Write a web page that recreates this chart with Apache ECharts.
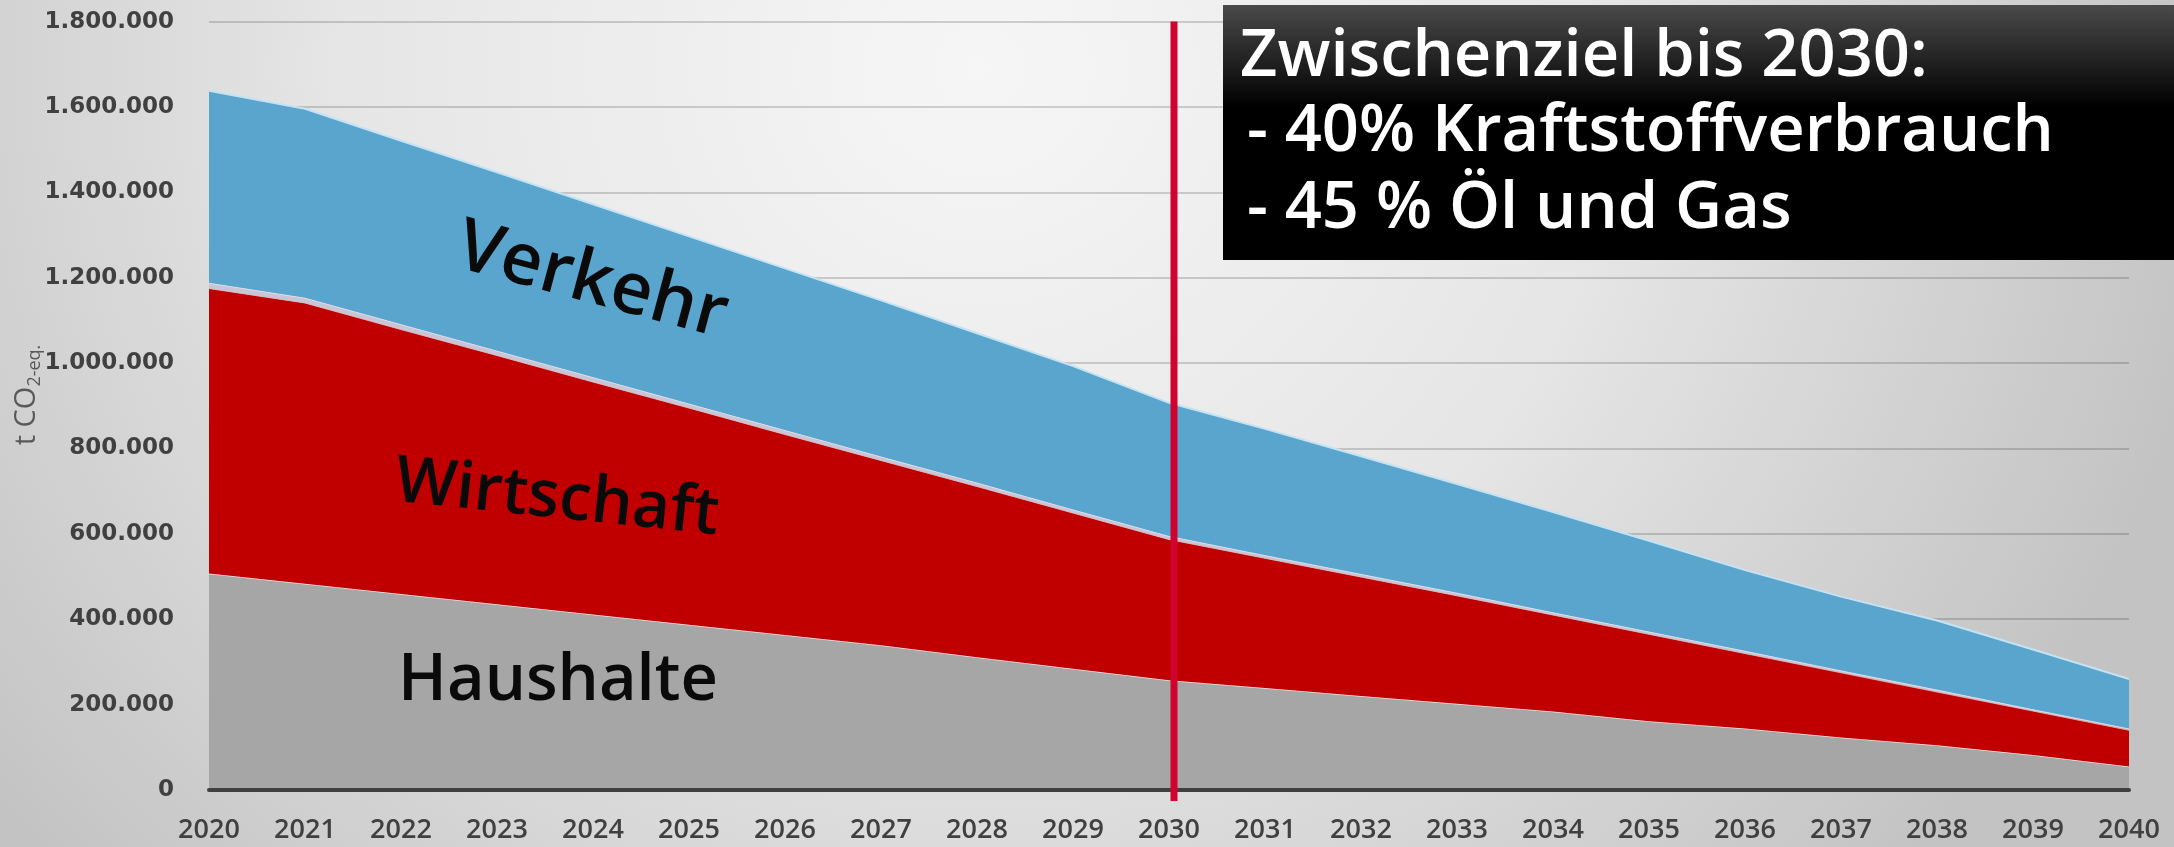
<!DOCTYPE html>
<html>
<head>
<meta charset="utf-8">
<script src="https://cdn.jsdelivr.net/npm/echarts@6/dist/echarts.min.js"></script>
<style>
  html, body { margin: 0; padding: 0; }
  #chart {
    width: 2174px; height: 847px;
    background: radial-gradient(ellipse 58% 140% at 45% 8%, #f6f6f6 0%, #e6e6e6 50%, #c3c3c3 100%);
  }
</style>
</head>
<body>
<div id="chart"></div>
<script>
// ---- data (t CO2-eq.) ----
const years = ['2020','2021','2022','2023','2024','2025','2026','2027','2028','2029','2030',
               '2031','2032','2033','2034','2035','2036','2037','2038','2039','2040'];
const haushalte  = [507000,483000,459000,435000,411000,387000,363000,339000,311000,284000,257000,
                    239000,220000,202000,184000,161000,144000,123000,105000,82000,55000];
const wirtschaft = [668000,658000,620000,583000,545000,508000,470000,433000,400000,365000,330000,
                    304000,279000,253000,226000,204000,176000,152000,125000,103000,85000];
const sonstige   = [12000,11000,11000,10000,10000,9000,9000,8000,8000,7000,7000,
                    6000,6000,6000,5000,5000,5000,4000,4000,3000,3000];
const verkehr    = [451000,444000,431000,419000,406000,393000,380000,367000,351000,337000,313000,
                    297000,277000,256000,236000,214000,190000,174000,163000,141000,117000];
const yTicks = { min: 0, max: 1800000, interval: 200000 };
const markYear = '2030';
const yAxisTitle = ['t CO', '2-eq.'];
const boxLines = ['Zwischenziel bis 2030:', ' - 40% Kraftstoffverbrauch', ' - 45 % Öl und Gas'];
const areaLabels = ['Verkehr', 'Wirtschaft', 'Haushalte'];

function fmt(v) { return String(v).replace(/\B(?=(\d{3})+(?!\d))/g, '.'); }

const chart = echarts.init(document.getElementById('chart'), null, { renderer: 'canvas' });

function areaSeries(name, data, color, lineColor, lineWidth, z) {
  return {
    name: name, type: 'line', stack: 'total', data: data,
    symbol: 'none', silent: true, z: z,
    lineStyle: { color: lineColor, width: lineWidth },
    areaStyle: { color: color, opacity: 1 }
  };
}

chart.setOption({
  backgroundColor: 'transparent',
  animation: false,
  grid: { left: 209, right: 45, top: 21.6, bottom: 57, containLabel: false, outerBoundsMode: 'none' },
  xAxis: {
    type: 'category', data: years, boundaryGap: false,
    axisLine: { show: true, lineStyle: { color: '#404040', width: 4 } },
    axisTick: { show: false },
    axisLabel: { color: '#404040', fontFamily: 'Open Sans', fontWeight: 600, fontSize: 27, margin: 27 },
    splitLine: { show: false },
    z: 5
  },
  yAxis: {
    type: 'value', min: yTicks.min, max: yTicks.max, interval: yTicks.interval,
    axisLine: { show: false }, axisTick: { show: false },
    axisLabel: { color: '#404040', fontFamily: 'DejaVu Sans', fontWeight: 'bold', fontSize: 23, margin: 35,
                 formatter: fmt },
    splitLine: { show: true, lineStyle: { color: 'rgba(0,0,0,0.16)', width: 2 } }
  },
  series: [
    areaSeries('Haushalte', haushalte, '#a6a6a6', '#f2e4e4', 1.5, 2),
    areaSeries('Wirtschaft', wirtschaft, '#c00000', '#f29a9a', 1.2, 3),
    areaSeries('Sonstige', sonstige, '#c7c5d6', '#dcdbe8', 1, 4),
    areaSeries('Verkehr', verkehr, '#5aa5cd', '#c3e3f4', 2, 1)
  ]
});

function build() {
  const xMark = chart.convertToPixel({ xAxisIndex: 0 }, markYear) + 5;
  const yTop = chart.convertToPixel({ yAxisIndex: 0 }, yTicks.max);
  const yBottom = chart.convertToPixel({ yAxisIndex: 0 }, 0);
  const font = '600 65px "Open Sans"';
  const graphics = [
    { type: 'line', z: 50, silent: true,
      shape: { x1: xMark, y1: yTop, x2: xMark, y2: yBottom + 11 },
      style: { stroke: '#d0022e', lineWidth: 7 } },
    { type: 'text', z: 30, silent: true, x: 24, y: 395, rotation: Math.PI / 2,
      style: { text: '{a|' + yAxisTitle[0] + '}{b|' + yAxisTitle[1] + '}', align: 'center', verticalAlign: 'middle',
        rich: {
          a: { fontFamily: 'Open Sans', fontSize: 29, fill: '#595959', lineHeight: 34, verticalAlign: 'bottom' },
          b: { fontFamily: 'Open Sans', fontSize: 18, fill: '#595959', lineHeight: 34, verticalAlign: 'bottom', padding: [0, 0, -3, 0] }
        } } },
    { type: 'rect', z: 60, silent: true,
      shape: { x: 1223, y: 5, width: 960, height: 255 },
      style: { fill: { type: 'linear', x: 0, y: 0, x2: 0, y2: 1,
        colorStops: [ { offset: 0, color: '#4a4a4a' }, { offset: 0.4, color: '#000000' }, { offset: 1, color: '#000000' } ] } } },
    { type: 'text', z: 61, silent: true, x: 1240, y: 57,
      style: { text: boxLines[0], font: font, fill: '#ffffff', align: 'left', verticalAlign: 'middle' } },
    { type: 'text', z: 61, silent: true, x: 1230, y: 132,
      style: { text: boxLines[1], font: font, fill: '#ffffff', align: 'left', verticalAlign: 'middle' } },
    { type: 'text', z: 61, silent: true, x: 1230, y: 209,
      style: { text: boxLines[2], font: font, fill: '#ffffff', align: 'left', verticalAlign: 'middle' } },
    { type: 'text', z: 40, silent: true, x: 592, y: 282, rotation: -15 * Math.PI / 180,
      style: { text: areaLabels[0], font: '600 72px "Open Sans"', fill: '#0a0a0a', align: 'center', verticalAlign: 'middle' } },
    { type: 'text', z: 40, silent: true, x: 557, y: 499, rotation: -6 * Math.PI / 180,
      style: { text: areaLabels[1], font: font, fill: '#0a0a0a', align: 'center', verticalAlign: 'middle' } },
    { type: 'text', z: 40, silent: true, x: 558, y: 681,
      style: { text: areaLabels[2], font: font, fill: '#0a0a0a', align: 'center', verticalAlign: 'middle' } }
  ];
  chart.setOption({ graphic: graphics });
}
build();
</script>
</body>
</html>
